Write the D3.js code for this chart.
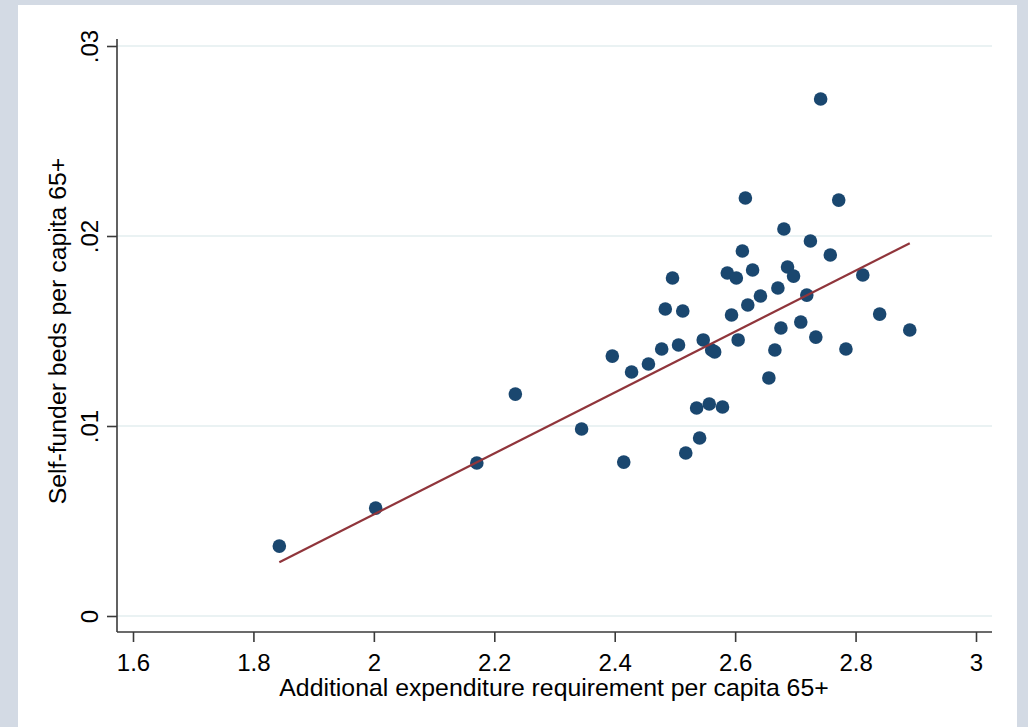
<!DOCTYPE html>
<meta charset="utf-8">
<title>Self-funder beds scatter</title>
<style>
body { margin: 0; background: #d3dae4; }
text { font-family: "Liberation Sans", Arial, sans-serif; fill: #000; }
.grid line { stroke: #eaf2f3; stroke-width: 2; }
.axis path, .axis line { stroke: #3a3a3a; stroke-width: 1.6; }
.dot { fill: #1a476f; }
.fit { fill: none; stroke: #90353b; stroke-width: 2.2; }
</style>
<body>
<svg width="1028" height="727"></svg>
<script src="https://d3js.org/d3.v7.min.js"></script>
<script>

// additional expenditure requirement per capita 65+
var expend = [1.843, 2.003, 2.171, 2.235, 2.345, 2.396, 2.415, 2.428, 2.456, 2.478,
              2.484, 2.496, 2.506, 2.513, 2.518, 2.536, 2.541, 2.547, 2.557, 2.561,
              2.566, 2.579, 2.587, 2.594, 2.602, 2.605, 2.612, 2.617, 2.621, 2.629,
              2.642, 2.656, 2.666, 2.671, 2.676, 2.681, 2.687, 2.697, 2.709, 2.719,
              2.725, 2.734, 2.742, 2.758, 2.772, 2.784, 2.812, 2.840, 2.890];
// self-funder beds per capita 65+
var beds = [0.00368, 0.00568, 0.00805, 0.01168, 0.00984, 0.01368, 0.0081, 0.01284, 0.01326, 0.01405,
            0.01616, 0.01779, 0.01426, 0.01605, 0.00858, 0.01095, 0.00937, 0.01453, 0.01116, 0.0140,
            0.0139, 0.0110, 0.01805, 0.01584, 0.01779, 0.01453, 0.01921, 0.0220, 0.01637, 0.01821,
            0.01684, 0.01253, 0.0140, 0.01726, 0.01516, 0.02037, 0.01837, 0.01789, 0.01547, 0.01689,
            0.01974, 0.01468, 0.02721, 0.0190, 0.02189, 0.01405, 0.01795, 0.01589, 0.01505];

// linear fit line, ends
var fitX = [1.843, 2.890];
var fitY = [0.00283, 0.01962];

var xTicks = [1.6, 1.8, 2, 2.2, 2.4, 2.6, 2.8, 3];
var xTickLabels = ["1.6", "1.8", "2", "2.2", "2.4", "2.6", "2.8", "3"];
var yTicks = [0, 0.01, 0.02, 0.03];
var yTickLabels = ["0", ".01", ".02", ".03"];

var svg = d3.select("svg");

svg.append("rect")
    .attr("x", 18).attr("y", 5)
    .attr("width", 999).attr("height", 730)
    .attr("fill", "#fff");

var x = d3.scaleLinear().domain([1.6, 3]).range([133, 976]),
    y = d3.scaleLinear().domain([0, 0.03]).range([616, 46]);

var axisLeftX = 117, axisBottomY = 632, plotRight = 992, plotTop = 39;

// gridlines
svg.append("g")
    .attr("class", "grid")
  .selectAll("line")
  .data(yTicks)
  .enter().append("line")
    .attr("x1", axisLeftX)
    .attr("x2", plotRight)
    .attr("y1", function(d) { return y(d); })
    .attr("y2", function(d) { return y(d); });

// y axis
var yAxis = svg.append("g")
    .attr("class", "axis")
    .attr("transform", "translate(" + axisLeftX + ",0)")
    .call(d3.axisLeft(y).tickValues(yTicks).tickSize(10).tickSizeOuter(0)
      .tickFormat(function(d, i) { return yTickLabels[i]; }));
yAxis.select(".domain").attr("d", "M0," + plotTop + "V" + axisBottomY);
yAxis.selectAll(".tick text")
    .attr("x", 0).attr("dy", 0)
    .attr("transform", "translate(-19,0) rotate(-90)")
    .attr("text-anchor", "middle")
    .style("font-size", "24px");

// x axis
var xAxis = svg.append("g")
    .attr("class", "axis")
    .attr("transform", "translate(0," + axisBottomY + ")")
    .call(d3.axisBottom(x).tickValues(xTicks).tickSize(10).tickSizeOuter(0)
      .tickFormat(function(d, i) { return xTickLabels[i]; }));
xAxis.select(".domain").attr("d", "M" + axisLeftX + ",0H" + plotRight);
xAxis.selectAll(".tick text")
    .attr("y", 39).attr("dy", 0)
    .style("font-size", "24px");

yAxis.selectAll("text").attr("fill", "#000");
xAxis.selectAll("text").attr("fill", "#000");

// points
svg.append("g")
  .selectAll("circle")
  .data(expend)
  .enter().append("circle")
    .attr("class", "dot")
    .attr("cx", function(d) { return x(d); })
    .attr("cy", function(d, i) { return y(beds[i]); })
    .attr("r", 6.8);

// fitted line
svg.append("path")
    .datum(fitX)
    .attr("class", "fit")
    .attr("d", d3.line()
      .x(function(d) { return x(d); })
      .y(function(d, i) { return y(fitY[i]); }));

// axis titles
svg.append("text")
    .attr("x", 554)
    .attr("y", 696)
    .attr("text-anchor", "middle")
    .style("font-size", "24.8px")
    .text("Additional expenditure requirement per capita 65+");

svg.append("text")
    .attr("transform", "translate(66,331) rotate(-90)")
    .attr("text-anchor", "middle")
    .style("font-size", "24.8px")
    .text("Self-funder beds per capita 65+");

</script>
</body>
